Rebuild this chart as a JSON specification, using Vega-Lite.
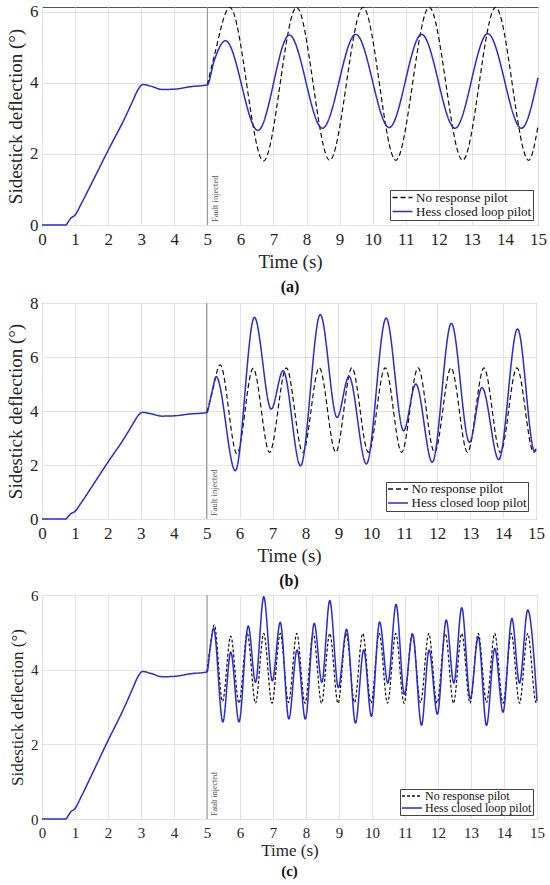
{
  "$schema": "https://vega.github.io/schema/vega-lite/v6.json",
  "padding": {"left": 6, "top": 2, "right": 0, "bottom": 0},
  "spacing": -3,
  "columns": 1,
  "config": {
    "font": "Liberation Serif",
    "view": {"stroke": "#555", "strokeWidth": 1},
    "axis": {
      "grid": true, "gridColor": "#e3e3e3", "domain": false, "ticks": false,
      "labelFont": "Liberation Serif", "titleFont": "Liberation Serif",
      "labelColor": "#262626", "titleColor": "#262626", "titleFontWeight": "normal",
      "labelFlush": false, "labelOverlap": false, "labelFontSize": 17, "titleFontSize": 19
    },
    "axisX": {"labelPadding": 6, "titlePadding": 5},
    "axisY": {"labelPadding": 4, "titlePadding": 4},
    "legend": {
      "orient": "bottom-right", "offset": 5, "fillColor": "white", "strokeColor": "#444",
      "padding": 1, "symbolType": "M-1,0H3", "symbolSize": 100, "symbolStrokeWidth": 1.3,
      "labelFont": "Liberation Serif", "labelFontSize": 13, "labelColor": "#111",
      "labelOffset": 12, "rowPadding": -3
    },
    "title": {"orient": "bottom", "font": "Liberation Serif", "fontSize": 16, "fontWeight": "bold", "color": "#111", "anchor": "middle", "offset": 8}
  },
  "resolve": {"scale": {"x": "independent", "y": "independent", "color": "independent", "strokeDash": "independent"}},
  "datasets": {
    "a": [
      {"s": "Hess closed loop pilot", "t": 0, "v": 0},
      {"s": "Hess closed loop pilot", "t": 0.72, "v": 0},
      {"s": "Hess closed loop pilot", "t": 0.8, "v": 0.1},
      {"s": "Hess closed loop pilot", "t": 0.88, "v": 0.2},
      {"s": "Hess closed loop pilot", "t": 0.98, "v": 0.26},
      {"s": "Hess closed loop pilot", "t": 1.2, "v": 0.62},
      {"s": "Hess closed loop pilot", "t": 1.5, "v": 1.17},
      {"s": "Hess closed loop pilot", "t": 2.0, "v": 2.1},
      {"s": "Hess closed loop pilot", "t": 2.5, "v": 3.0},
      {"s": "Hess closed loop pilot", "t": 2.75, "v": 3.5},
      {"s": "Hess closed loop pilot", "t": 2.9, "v": 3.8},
      {"s": "Hess closed loop pilot", "t": 3.05, "v": 3.95},
      {"s": "Hess closed loop pilot", "t": 3.3, "v": 3.9},
      {"s": "Hess closed loop pilot", "t": 3.65, "v": 3.81},
      {"s": "Hess closed loop pilot", "t": 4.0, "v": 3.82},
      {"s": "Hess closed loop pilot", "t": 4.5, "v": 3.89},
      {"s": "Hess closed loop pilot", "t": 5.0, "v": 3.94},
      {"s": "Hess closed loop pilot", "t": 5.2, "v": 4.6},
      {"s": "Hess closed loop pilot", "t": 5.55, "v": 5.18},
      {"s": "Hess closed loop pilot", "t": 6.53, "v": 2.66},
      {"s": "Hess closed loop pilot", "t": 7.48, "v": 5.34},
      {"s": "Hess closed loop pilot", "t": 8.48, "v": 2.72},
      {"s": "Hess closed loop pilot", "t": 9.49, "v": 5.36},
      {"s": "Hess closed loop pilot", "t": 10.5, "v": 2.74},
      {"s": "Hess closed loop pilot", "t": 11.48, "v": 5.36},
      {"s": "Hess closed loop pilot", "t": 12.49, "v": 2.72},
      {"s": "Hess closed loop pilot", "t": 13.48, "v": 5.38},
      {"s": "Hess closed loop pilot", "t": 14.5, "v": 2.72},
      {"s": "Hess closed loop pilot", "t": 15, "v": 4.14},
      {"s": "No response pilot", "t": 5.0, "v": 3.94},
      {"s": "No response pilot", "t": 5.2, "v": 4.72},
      {"s": "No response pilot", "t": 5.68, "v": 6.12},
      {"s": "No response pilot", "t": 6.7, "v": 1.8},
      {"s": "No response pilot", "t": 7.7, "v": 6.12},
      {"s": "No response pilot", "t": 8.7, "v": 1.82},
      {"s": "No response pilot", "t": 9.71, "v": 6.12},
      {"s": "No response pilot", "t": 10.7, "v": 1.82},
      {"s": "No response pilot", "t": 11.71, "v": 6.12},
      {"s": "No response pilot", "t": 12.72, "v": 1.82},
      {"s": "No response pilot", "t": 13.72, "v": 6.12},
      {"s": "No response pilot", "t": 14.72, "v": 1.82},
      {"s": "No response pilot", "t": 15, "v": 2.78}
    ],
    "b": [
      {"s": "Hess closed loop pilot", "t": 0, "v": 0},
      {"s": "Hess closed loop pilot", "t": 0.72, "v": 0},
      {"s": "Hess closed loop pilot", "t": 0.8, "v": 0.1},
      {"s": "Hess closed loop pilot", "t": 0.88, "v": 0.2},
      {"s": "Hess closed loop pilot", "t": 0.98, "v": 0.26},
      {"s": "Hess closed loop pilot", "t": 1.2, "v": 0.62},
      {"s": "Hess closed loop pilot", "t": 1.5, "v": 1.17},
      {"s": "Hess closed loop pilot", "t": 2.0, "v": 2.1},
      {"s": "Hess closed loop pilot", "t": 2.5, "v": 3.0},
      {"s": "Hess closed loop pilot", "t": 2.75, "v": 3.5},
      {"s": "Hess closed loop pilot", "t": 2.9, "v": 3.8},
      {"s": "Hess closed loop pilot", "t": 3.05, "v": 3.95},
      {"s": "Hess closed loop pilot", "t": 3.3, "v": 3.9},
      {"s": "Hess closed loop pilot", "t": 3.65, "v": 3.81},
      {"s": "Hess closed loop pilot", "t": 4.0, "v": 3.82},
      {"s": "Hess closed loop pilot", "t": 4.5, "v": 3.89},
      {"s": "Hess closed loop pilot", "t": 5.0, "v": 3.94},
      {"s": "Hess closed loop pilot", "t": 5.15, "v": 4.65},
      {"s": "Hess closed loop pilot", "t": 5.29, "v": 5.27},
      {"s": "Hess closed loop pilot", "t": 5.87, "v": 1.79},
      {"s": "Hess closed loop pilot", "t": 6.45, "v": 7.47},
      {"s": "Hess closed loop pilot", "t": 6.96, "v": 4.07},
      {"s": "Hess closed loop pilot", "t": 7.32, "v": 5.49},
      {"s": "Hess closed loop pilot", "t": 7.85, "v": 1.97},
      {"s": "Hess closed loop pilot", "t": 8.45, "v": 7.57},
      {"s": "Hess closed loop pilot", "t": 8.96, "v": 3.76},
      {"s": "Hess closed loop pilot", "t": 9.32, "v": 5.28},
      {"s": "Hess closed loop pilot", "t": 9.85, "v": 2.04},
      {"s": "Hess closed loop pilot", "t": 10.45, "v": 7.44},
      {"s": "Hess closed loop pilot", "t": 10.98, "v": 3.27},
      {"s": "Hess closed loop pilot", "t": 11.35, "v": 5.0},
      {"s": "Hess closed loop pilot", "t": 11.85, "v": 2.1},
      {"s": "Hess closed loop pilot", "t": 12.43, "v": 7.25},
      {"s": "Hess closed loop pilot", "t": 12.98, "v": 2.84},
      {"s": "Hess closed loop pilot", "t": 13.36, "v": 4.87},
      {"s": "Hess closed loop pilot", "t": 13.87, "v": 2.2},
      {"s": "Hess closed loop pilot", "t": 14.44, "v": 7.04},
      {"s": "Hess closed loop pilot", "t": 14.96, "v": 2.5},
      {"s": "Hess closed loop pilot", "t": 15, "v": 2.56},
      {"s": "No response pilot", "t": 5.0, "v": 3.94},
      {"s": "No response pilot", "t": 5.15, "v": 4.6},
      {"s": "No response pilot", "t": 5.41, "v": 5.71},
      {"s": "No response pilot", "t": 5.92, "v": 2.42},
      {"s": "No response pilot", "t": 6.41, "v": 5.58},
      {"s": "No response pilot", "t": 6.91, "v": 2.47},
      {"s": "No response pilot", "t": 7.42, "v": 5.6},
      {"s": "No response pilot", "t": 7.92, "v": 2.47},
      {"s": "No response pilot", "t": 8.42, "v": 5.6},
      {"s": "No response pilot", "t": 8.92, "v": 2.47},
      {"s": "No response pilot", "t": 9.41, "v": 5.6},
      {"s": "No response pilot", "t": 9.91, "v": 2.47},
      {"s": "No response pilot", "t": 10.42, "v": 5.6},
      {"s": "No response pilot", "t": 10.92, "v": 2.47},
      {"s": "No response pilot", "t": 11.42, "v": 5.6},
      {"s": "No response pilot", "t": 11.92, "v": 2.47},
      {"s": "No response pilot", "t": 12.42, "v": 5.6},
      {"s": "No response pilot", "t": 12.92, "v": 2.47},
      {"s": "No response pilot", "t": 13.42, "v": 5.6},
      {"s": "No response pilot", "t": 13.92, "v": 2.47},
      {"s": "No response pilot", "t": 14.42, "v": 5.6},
      {"s": "No response pilot", "t": 14.93, "v": 2.47},
      {"s": "No response pilot", "t": 15, "v": 2.6}
    ],
    "c": [
      {"s": "Hess closed loop pilot", "t": 0, "v": 0},
      {"s": "Hess closed loop pilot", "t": 0.72, "v": 0},
      {"s": "Hess closed loop pilot", "t": 0.8, "v": 0.1},
      {"s": "Hess closed loop pilot", "t": 0.88, "v": 0.2},
      {"s": "Hess closed loop pilot", "t": 0.98, "v": 0.26},
      {"s": "Hess closed loop pilot", "t": 1.2, "v": 0.62},
      {"s": "Hess closed loop pilot", "t": 1.5, "v": 1.17},
      {"s": "Hess closed loop pilot", "t": 2.0, "v": 2.1},
      {"s": "Hess closed loop pilot", "t": 2.5, "v": 3.0},
      {"s": "Hess closed loop pilot", "t": 2.75, "v": 3.5},
      {"s": "Hess closed loop pilot", "t": 2.9, "v": 3.8},
      {"s": "Hess closed loop pilot", "t": 3.05, "v": 3.95},
      {"s": "Hess closed loop pilot", "t": 3.3, "v": 3.9},
      {"s": "Hess closed loop pilot", "t": 3.65, "v": 3.81},
      {"s": "Hess closed loop pilot", "t": 4.0, "v": 3.82},
      {"s": "Hess closed loop pilot", "t": 4.5, "v": 3.89},
      {"s": "Hess closed loop pilot", "t": 5.0, "v": 3.94},
      {"s": "Hess closed loop pilot", "t": 5.1, "v": 4.6},
      {"s": "Hess closed loop pilot", "t": 5.2, "v": 5.11},
      {"s": "Hess closed loop pilot", "t": 5.48, "v": 2.6},
      {"s": "Hess closed loop pilot", "t": 5.72, "v": 4.47},
      {"s": "Hess closed loop pilot", "t": 5.97, "v": 2.6},
      {"s": "Hess closed loop pilot", "t": 6.25, "v": 5.17},
      {"s": "Hess closed loop pilot", "t": 6.47, "v": 3.66},
      {"s": "Hess closed loop pilot", "t": 6.72, "v": 5.95},
      {"s": "Hess closed loop pilot", "t": 6.98, "v": 3.7},
      {"s": "Hess closed loop pilot", "t": 7.22, "v": 5.27},
      {"s": "Hess closed loop pilot", "t": 7.48, "v": 2.68},
      {"s": "Hess closed loop pilot", "t": 7.73, "v": 4.53},
      {"s": "Hess closed loop pilot", "t": 7.98, "v": 2.68},
      {"s": "Hess closed loop pilot", "t": 8.25, "v": 5.24},
      {"s": "Hess closed loop pilot", "t": 8.48, "v": 3.66},
      {"s": "Hess closed loop pilot", "t": 8.72, "v": 5.85},
      {"s": "Hess closed loop pilot", "t": 8.98, "v": 3.52},
      {"s": "Hess closed loop pilot", "t": 9.23, "v": 5.08},
      {"s": "Hess closed loop pilot", "t": 9.5, "v": 2.57},
      {"s": "Hess closed loop pilot", "t": 9.75, "v": 4.53},
      {"s": "Hess closed loop pilot", "t": 9.98, "v": 2.75},
      {"s": "Hess closed loop pilot", "t": 10.23, "v": 5.28},
      {"s": "Hess closed loop pilot", "t": 10.48, "v": 3.64},
      {"s": "Hess closed loop pilot", "t": 10.73, "v": 5.75},
      {"s": "Hess closed loop pilot", "t": 10.98, "v": 3.34},
      {"s": "Hess closed loop pilot", "t": 11.23, "v": 4.95},
      {"s": "Hess closed loop pilot", "t": 11.5, "v": 2.51},
      {"s": "Hess closed loop pilot", "t": 11.73, "v": 4.53},
      {"s": "Hess closed loop pilot", "t": 11.98, "v": 2.81},
      {"s": "Hess closed loop pilot", "t": 12.25, "v": 5.33},
      {"s": "Hess closed loop pilot", "t": 12.48, "v": 3.64},
      {"s": "Hess closed loop pilot", "t": 12.72, "v": 5.66},
      {"s": "Hess closed loop pilot", "t": 12.98, "v": 3.22},
      {"s": "Hess closed loop pilot", "t": 13.22, "v": 4.88},
      {"s": "Hess closed loop pilot", "t": 13.47, "v": 2.51},
      {"s": "Hess closed loop pilot", "t": 13.72, "v": 4.57},
      {"s": "Hess closed loop pilot", "t": 13.97, "v": 2.86},
      {"s": "Hess closed loop pilot", "t": 14.24, "v": 5.37},
      {"s": "Hess closed loop pilot", "t": 14.47, "v": 3.64},
      {"s": "Hess closed loop pilot", "t": 14.72, "v": 5.6},
      {"s": "Hess closed loop pilot", "t": 15, "v": 3.15},
      {"s": "No response pilot", "t": 5.0, "v": 3.94},
      {"s": "No response pilot", "t": 5.1, "v": 4.65},
      {"s": "No response pilot", "t": 5.22, "v": 5.2},
      {"s": "No response pilot", "t": 5.47, "v": 3.15},
      {"s": "No response pilot", "t": 5.72, "v": 4.9},
      {"s": "No response pilot", "t": 5.97, "v": 3.1},
      {"s": "No response pilot", "t": 6.22, "v": 4.97},
      {"s": "No response pilot", "t": 6.47, "v": 3.1},
      {"s": "No response pilot", "t": 6.72, "v": 4.97},
      {"s": "No response pilot", "t": 6.97, "v": 3.1},
      {"s": "No response pilot", "t": 7.22, "v": 4.97},
      {"s": "No response pilot", "t": 7.47, "v": 3.12},
      {"s": "No response pilot", "t": 7.72, "v": 4.97},
      {"s": "No response pilot", "t": 7.97, "v": 3.1},
      {"s": "No response pilot", "t": 8.22, "v": 4.97},
      {"s": "No response pilot", "t": 8.47, "v": 3.1},
      {"s": "No response pilot", "t": 8.72, "v": 4.97},
      {"s": "No response pilot", "t": 8.97, "v": 3.1},
      {"s": "No response pilot", "t": 9.22, "v": 4.97},
      {"s": "No response pilot", "t": 9.47, "v": 3.12},
      {"s": "No response pilot", "t": 9.72, "v": 4.97},
      {"s": "No response pilot", "t": 9.97, "v": 3.1},
      {"s": "No response pilot", "t": 10.22, "v": 4.97},
      {"s": "No response pilot", "t": 10.47, "v": 3.1},
      {"s": "No response pilot", "t": 10.72, "v": 4.97},
      {"s": "No response pilot", "t": 10.97, "v": 3.1},
      {"s": "No response pilot", "t": 11.22, "v": 4.97},
      {"s": "No response pilot", "t": 11.47, "v": 3.12},
      {"s": "No response pilot", "t": 11.72, "v": 4.97},
      {"s": "No response pilot", "t": 11.97, "v": 3.1},
      {"s": "No response pilot", "t": 12.22, "v": 4.97},
      {"s": "No response pilot", "t": 12.47, "v": 3.1},
      {"s": "No response pilot", "t": 12.72, "v": 4.97},
      {"s": "No response pilot", "t": 12.97, "v": 3.1},
      {"s": "No response pilot", "t": 13.22, "v": 4.97},
      {"s": "No response pilot", "t": 13.47, "v": 3.12},
      {"s": "No response pilot", "t": 13.72, "v": 4.97},
      {"s": "No response pilot", "t": 13.97, "v": 3.1},
      {"s": "No response pilot", "t": 14.22, "v": 4.97},
      {"s": "No response pilot", "t": 14.47, "v": 3.1},
      {"s": "No response pilot", "t": 14.72, "v": 4.97},
      {"s": "No response pilot", "t": 14.97, "v": 3.12},
      {"s": "No response pilot", "t": 15, "v": 3.15}
    ]
  },
  "concat": [
    {
      "width": 496,
      "height": 218,
      "title": {"text": "(a)"},
      "encoding": {
        "x": {"field": "t", "type": "quantitative", "title": "Time (s)", "scale": {"domain": [0, 15], "nice": false}, "axis": {"values": [0, 1, 2, 3, 4, 5, 6, 7, 8, 9, 10, 11, 12, 13, 14, 15]}}
      },
      "layer": [
        {
          "data": {"values": [{"t": 5}]},
          "mark": {"type": "rule", "color": "#8c8c8c", "strokeWidth": 1},
          "encoding": {}
        },
        {
          "data": {"values": [{"t": 5.24, "v": 0, "txt": "Fault injected"}]},
          "mark": {"type": "text", "angle": 270, "align": "left", "baseline": "middle", "fontSize": 8.5, "color": "#555", "dx": 3},
          "encoding": {
            "y": {"field": "v", "type": "quantitative", "title": "Sidestick deflection (°)", "scale": {"domain": [0, 6.13], "nice": false}, "axis": {"values": [0, 1, 2, 3, 4, 5, 6]}},
            "text": {"field": "txt"}
          }
        },
        {
          "data": {"name": "a"},
          "transform": [{"filter": "datum.s === 'No response pilot'"}],
          "mark": {"type": "line", "interpolate": "monotone", "strokeWidth": 1.2},
          "encoding": {
            "y": {"field": "v", "type": "quantitative"},
            "color": {"field": "s", "type": "nominal", "title": null, "scale": {"domain": ["No response pilot", "Hess closed loop pilot"], "range": ["#111111", "#2a2ad6"]}},
            "strokeDash": {"field": "s", "type": "nominal", "title": null, "scale": {"domain": ["No response pilot", "Hess closed loop pilot"], "range": [[5, 3], [1, 0]]}}
          }
        },
        {
          "data": {"name": "a"},
          "transform": [{"filter": "datum.s === 'Hess closed loop pilot'"}],
          "mark": {"type": "line", "interpolate": "monotone", "strokeWidth": 1.5},
          "encoding": {
            "y": {"field": "v", "type": "quantitative"},
            "color": {"field": "s", "type": "nominal"},
            "strokeDash": {"field": "s", "type": "nominal"}
          }
        }
      ]
    },
    {
      "width": 494,
      "height": 216,
      "title": {"text": "(b)"},
      "encoding": {
        "x": {"field": "t", "type": "quantitative", "title": "Time (s)", "scale": {"domain": [0, 15], "nice": false}, "axis": {"values": [0, 1, 2, 3, 4, 5, 6, 7, 8, 9, 10, 11, 12, 13, 14, 15]}}
      },
      "layer": [
        {
          "data": {"values": [{"t": 5}]},
          "mark": {"type": "rule", "color": "#8c8c8c", "strokeWidth": 1},
          "encoding": {}
        },
        {
          "data": {"values": [{"t": 5.22, "v": 0, "txt": "Fault injected"}]},
          "mark": {"type": "text", "angle": 270, "align": "left", "baseline": "middle", "fontSize": 8.5, "color": "#555", "dx": 3},
          "encoding": {
            "y": {"field": "v", "type": "quantitative", "title": "Sidestick deflection (°)", "scale": {"domain": [0, 8], "nice": false}, "axis": {"values": [0, 2, 4, 6, 8]}},
            "text": {"field": "txt"}
          }
        },
        {
          "data": {"name": "b"},
          "transform": [{"filter": "datum.s === 'No response pilot'"}],
          "mark": {"type": "line", "interpolate": "monotone", "strokeWidth": 1.2},
          "encoding": {
            "y": {"field": "v", "type": "quantitative"},
            "color": {"field": "s", "type": "nominal", "title": null, "scale": {"domain": ["No response pilot", "Hess closed loop pilot"], "range": ["#111111", "#2a2ad6"]}, "legend": {"rowPadding": -5, "padding": 0.5, "offset": 8}},
            "strokeDash": {"field": "s", "type": "nominal", "title": null, "scale": {"domain": ["No response pilot", "Hess closed loop pilot"], "range": [[5, 3], [1, 0]]}, "legend": {"rowPadding": -5, "padding": 0.5, "offset": 8}}
          }
        },
        {
          "data": {"name": "b"},
          "transform": [{"filter": "datum.s === 'Hess closed loop pilot'"}],
          "mark": {"type": "line", "interpolate": "monotone", "strokeWidth": 1.5},
          "encoding": {
            "y": {"field": "v", "type": "quantitative"},
            "color": {"field": "s", "type": "nominal"},
            "strokeDash": {"field": "s", "type": "nominal"}
          }
        }
      ]
    },
    {
      "width": 495,
      "height": 224,
      "title": {"text": "(c)", "fontSize": 15, "offset": 6},
      "encoding": {
        "x": {"field": "t", "type": "quantitative", "title": "Time (s)", "scale": {"domain": [0, 15], "nice": false}, "axis": {"values": [0, 1, 2, 3, 4, 5, 6, 7, 8, 9, 10, 11, 12, 13, 14, 15], "labelFontSize": 15, "titleFontSize": 17, "titlePadding": 2}}
      },
      "layer": [
        {
          "data": {"values": [{"t": 5}]},
          "mark": {"type": "rule", "color": "#8c8c8c", "strokeWidth": 1},
          "encoding": {}
        },
        {
          "data": {"values": [{"t": 5.23, "v": 0, "txt": "Fault injected"}]},
          "mark": {"type": "text", "angle": 270, "align": "left", "baseline": "middle", "fontSize": 8, "color": "#555", "dx": 3},
          "encoding": {
            "y": {"field": "v", "type": "quantitative", "title": "Sidestick deflection (°)", "scale": {"domain": [0, 6], "nice": false}, "axis": {"values": [0, 1, 2, 3, 4, 5, 6], "labelFontSize": 15, "titleFontSize": 17, "titlePadding": 4, "labelPadding": 4}},
            "text": {"field": "txt"}
          }
        },
        {
          "data": {"name": "c"},
          "transform": [{"filter": "datum.s === 'No response pilot'"}],
          "mark": {"type": "line", "interpolate": "monotone", "strokeWidth": 1.2},
          "encoding": {
            "y": {"field": "v", "type": "quantitative"},
            "color": {"field": "s", "type": "nominal", "title": null, "scale": {"domain": ["No response pilot", "Hess closed loop pilot"], "range": ["#111111", "#2a2ad6"]}, "legend": {"labelFontSize": 12, "rowPadding": -2, "offset": 4}},
            "strokeDash": {"field": "s", "type": "nominal", "title": null, "scale": {"domain": ["No response pilot", "Hess closed loop pilot"], "range": [[3, 2], [1, 0]]}, "legend": {"labelFontSize": 12, "rowPadding": -2, "offset": 4}}
          }
        },
        {
          "data": {"name": "c"},
          "transform": [{"filter": "datum.s === 'Hess closed loop pilot'"}],
          "mark": {"type": "line", "interpolate": "monotone", "strokeWidth": 1.5},
          "encoding": {
            "y": {"field": "v", "type": "quantitative"},
            "color": {"field": "s", "type": "nominal"},
            "strokeDash": {"field": "s", "type": "nominal"}
          }
        }
      ]
    }
  ]
}
